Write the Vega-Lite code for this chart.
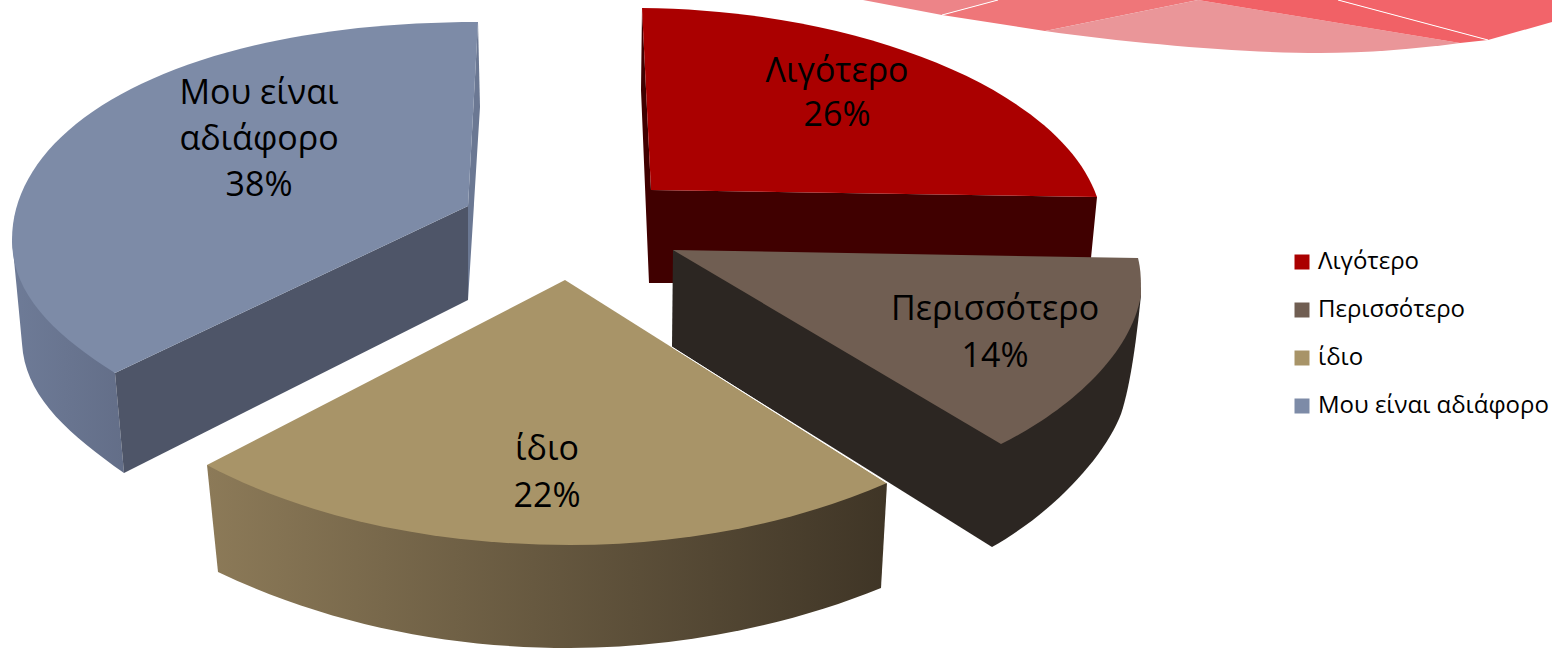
{
  "$schema": "https://vega.github.io/schema/vega-lite/v6.json",
  "width": 1552,
  "height": 648,
  "padding": 0,
  "autosize": {"type": "none"},
  "background": "white",
  "config": {"view": {"stroke": null}, "font": "Open Sans"},
  "data": {"values": [
    {"category": "Λιγότερο", "value": 26},
    {"category": "Περισσότερο", "value": 14},
    {"category": "ίδιο", "value": 22},
    {"category": "Μου είναι αδιάφορο", "value": 38}
  ]},
  "transform": [
    {"calculate": "replace(datum.category, 'είναι ', 'είναι\\n') + '\\n' + datum.value + '%'", "as": "text"}
  ],
  "layer": [
    {
      "mark": {"type": "point", "shape": "square", "size": 0, "filled": true, "opacity": 1, "strokeWidth": 0},
      "encoding": {
        "color": {"field": "category", "type": "nominal",
          "scale": {
            "domain": ["Λιγότερο", "Περισσότερο", "ίδιο", "Μου είναι αδιάφορο"],
            "range": ["#AA0000", "#705E52", "#A89468", "#7D8BA7"]
          },
          "legend": {
            "title": null, "orient": "none", "legendX": 1290, "legendY": 250,
            "symbolType": "square", "symbolSize": 225, "symbolStrokeWidth": 0, "symbolOpacity": 1,
            "labelFontSize": 24, "labelFont": "Open Sans", "labelColor": "#000000",
            "labelOffset": 4, "rowPadding": 24, "labelLimit": 300
          }
        }
      }
    },
    {"mark": {"type": "point", "shape": "M87,-324 L166,-309 L222,-324 Z", "size": 4, "filled": true, "fill": "#ED8488", "opacity": 1, "strokeWidth": 0}, "transform": [{"filter": "datum.value == 26"}], "encoding": {}},
    {"mark": {"type": "point", "shape": "M222,-324 L166,-309 L269,-293 L422,-324 Z", "size": 4, "filled": true, "fill": "#EF7679", "opacity": 1, "strokeWidth": 0}, "transform": [{"filter": "datum.value == 26"}], "encoding": {}},
    {"mark": {"type": "point", "shape": "M422,-324 L269,-293 C360,-280 470,-271 544,-271 C590,-271 640,-275 684,-281 Z", "size": 4, "filled": true, "fill": "#EA9699", "opacity": 1, "strokeWidth": 0}, "transform": [{"filter": "datum.value == 26"}], "encoding": {}},
    {"mark": {"type": "point", "shape": "M422,-324 L684,-281 L712,-284 L562,-324 Z", "size": 4, "filled": true, "fill": "#F16166", "opacity": 1, "strokeWidth": 0}, "transform": [{"filter": "datum.value == 26"}], "encoding": {}},
    {"mark": {"type": "point", "shape": "M562,-324 L712,-284 L776,-302 L776,-324 Z", "size": 4, "filled": true, "fill": "#F2646A", "opacity": 1, "strokeWidth": 0}, "transform": [{"filter": "datum.value == 26"}], "encoding": {}},
    {"mark": {"type": "point", "shape": "M166,-309 L222,-324 M562,-324 L712,-284", "size": 4, "filled": false, "stroke": "white", "strokeWidth": 1, "opacity": 1}, "transform": [{"filter": "datum.value == 26"}], "encoding": {}},

    {"mark": {"type": "point", "shape": "M-764,-84 C-761,-54 -758,-24 -753,29 C-746,76 -706,111 -652,149 L-661,49 Z", "size": 4, "filled": true, "opacity": 1, "strokeWidth": 0, "fill": {"gradient": "linear", "x1": 0, "y1": 0, "x2": 1, "y2": 0, "stops": [{"offset": 0, "color": "#6E7B97"}, {"offset": 1, "color": "#636E88"}]}}, "transform": [{"filter": "datum.value == 38"}], "encoding": {}},
    {"mark": {"type": "point", "shape": "M-308,-118 L-661,49 L-652,149 L-308,-24 Z", "size": 4, "filled": true, "fill": "#4E5568", "opacity": 1, "strokeWidth": 0}, "transform": [{"filter": "datum.value == 38"}], "encoding": {}},
    {"mark": {"type": "point", "shape": "M-298,-302 L-296,-217 L-308,-24 L-308,-118 Z", "size": 4, "filled": true, "fill": "#6B7893", "opacity": 1, "strokeWidth": 0}, "transform": [{"filter": "datum.value == 38"}], "encoding": {}},
    {"mark": {"type": "point", "shape": "M-134,-316 L-135,-234 L-127,-41 L224,-41 L315,-66 L321,-127 L-125,-134 Z", "size": 4, "filled": true, "fill": "#400000", "opacity": 1, "strokeWidth": 0}, "transform": [{"filter": "datum.value == 26"}], "encoding": {}},
    {"mark": {"type": "point", "shape": "M-103,-74 L-104,23 L216,223 C280,187 330,130 345,90 C355,60 361,10 365,-29 Z", "size": 4, "filled": true, "fill": "#2C2622", "opacity": 1, "strokeWidth": 0}, "transform": [{"filter": "datum.value == 14"}], "encoding": {}},
    {"mark": {"type": "point", "shape": "M-569,141 L-558,248 C-446,301 -326,324 -206,324 C-96,324 14,301 105,264 L111,159 Z", "size": 4, "filled": true, "opacity": 1, "strokeWidth": 0, "fill": {"gradient": "linear", "x1": 0, "y1": 0, "x2": 1, "y2": 0, "stops": [{"offset": 0, "color": "#8C7A58"}, {"offset": 1, "color": "#3F3526"}]}}, "transform": [{"filter": "datum.value == 22"}], "encoding": {}},

    {"mark": {"type": "point", "shape": "M-125,-134 L-134,-316 C84,-314 284,-234 321,-127 Z", "size": 4, "filled": true, "opacity": 1, "strokeWidth": 0}, "transform": [{"filter": "datum.value == 26"}], "encoding": {"color": {"field": "category", "type": "nominal", "legend": null}}},
    {"mark": {"type": "point", "shape": "M-103,-74 L362,-66 C365,-54 365,-44 365,-29 C354,36 284,91 225,120 Z", "size": 4, "filled": true, "opacity": 1, "strokeWidth": 0}, "transform": [{"filter": "datum.value == 14"}], "encoding": {"color": {"field": "category", "type": "nominal", "legend": null}}},
    {"mark": {"type": "point", "shape": "M-211,-44 L111,159 C14,201 -96,221 -206,221 C-336,221 -466,196 -569,141 Z", "size": 4, "filled": true, "opacity": 1, "strokeWidth": 0}, "transform": [{"filter": "datum.value == 22"}], "encoding": {"color": {"field": "category", "type": "nominal", "legend": null}}},
    {"mark": {"type": "point", "shape": "M-308,-118 L-661,49 C-721,11 -764,-29 -764,-84 C-764,-204 -586,-302 -298,-302 Z", "size": 4, "filled": true, "opacity": 1, "strokeWidth": 0}, "transform": [{"filter": "datum.value == 38"}], "encoding": {"color": {"field": "category", "type": "nominal", "legend": null}}},
    {"mark": {"type": "point", "shape": "M-104,23 L111,159", "size": 4, "filled": false, "stroke": "white", "strokeWidth": 1, "opacity": 1}, "transform": [{"filter": "datum.value == 22"}], "encoding": {}},

    {"mark": {"type": "text", "lineBreak": "\n", "fontSize": 34, "lineHeight": 44, "color": "#000000", "align": "center", "baseline": "middle", "xOffset": 61, "yOffset": -252}, "transform": [{"filter": "datum.value == 26"}], "encoding": {"text": {"field": "text", "type": "nominal"}}},
    {"mark": {"type": "text", "lineBreak": "\n", "fontSize": 34, "lineHeight": 47, "color": "#000000", "align": "center", "baseline": "middle", "xOffset": 219, "yOffset": -14}, "transform": [{"filter": "datum.value == 14"}], "encoding": {"text": {"field": "text", "type": "nominal"}}},
    {"mark": {"type": "text", "lineBreak": "\n", "fontSize": 34, "lineHeight": 47, "color": "#000000", "align": "center", "baseline": "middle", "xOffset": -229, "yOffset": 126}, "transform": [{"filter": "datum.value == 22"}], "encoding": {"text": {"field": "text", "type": "nominal"}}},
    {"mark": {"type": "text", "lineBreak": "\n", "fontSize": 34, "lineHeight": 46, "color": "#000000", "align": "center", "baseline": "middle", "xOffset": -517, "yOffset": -230}, "transform": [{"filter": "datum.value == 38"}], "encoding": {"text": {"field": "text", "type": "nominal"}}}
  ]
}
